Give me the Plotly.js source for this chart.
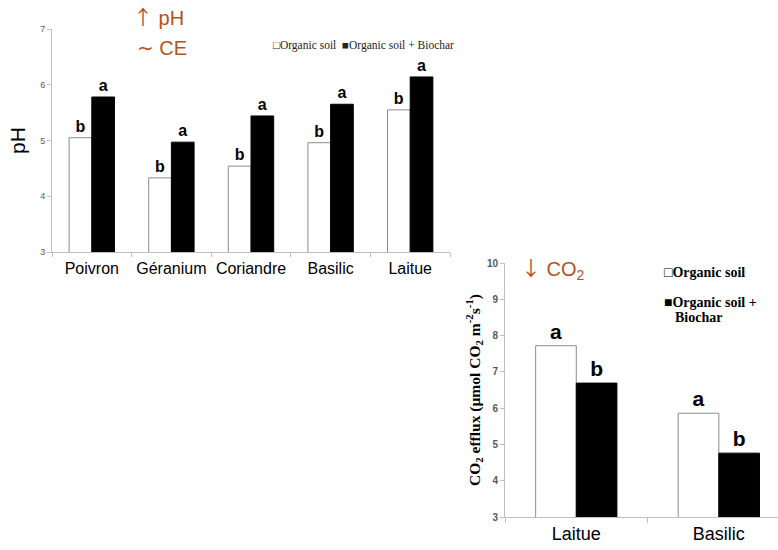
<!DOCTYPE html>
<html>
<head>
<meta charset="utf-8">
<script src="https://cdn.plot.ly/plotly-3.0.1.min.js"></script>
<style>html,body{margin:0;padding:0;background:#fff;}#chart{width:778px;height:550px;}</style>
</head>
<body>
<div id="chart"></div>
<script>
// ---- Data ----
const seriesNames = ["Organic soil", "Organic soil + Biochar"];

const phCategories = ["Poivron", "Géranium", "Coriandre", "Basilic", "Laitue"];
const phOrganic = [5.05, 4.33, 4.54, 4.96, 5.55];
const phBiochar = [5.78, 4.97, 5.44, 5.65, 6.14];
const phOrganicLetters = ["b", "b", "b", "b", "b"];
const phBiocharLetters = ["a", "a", "a", "a", "a"];
const phTicks = [3, 4, 5, 6, 7];

const co2Categories = ["Laitue", "Basilic"];
const co2Organic = [7.72, 5.86];
const co2Biochar = [6.69, 4.76];
const co2OrganicLetters = ["a", "a"];
const co2BiocharLetters = ["b", "b"];
const co2Ticks = [3, 4, 5, 6, 7, 8, 9, 10];

// ---- Styles ----
const W = 778, H = 550;
const brown = "#B4501E";
const axisGray = "#BFBFBF";
const tickGray = "#595959";

function barTrace(x, y, letters, isBlack, xa, ya, fontSize) {
  return {
    type: "bar", x: x, y: y, xaxis: xa, yaxis: ya,
    text: letters, textposition: "outside", cliponaxis: false, constraintext: "none",
    textfont: {family: "Liberation Sans, Arial", size: fontSize, color: "#000", weight: "bold"},
    marker: {color: isBlack ? "#000000" : "#FFFFFF",
             line: {color: isBlack ? "#000000" : "#8C8C8C", width: 1}},
    hoverinfo: "skip", showlegend: false
  };
}

const data = [
  barTrace(phCategories, phOrganic, phOrganicLetters, false, "x", "y", 16),
  barTrace(phCategories, phBiochar, phBiocharLetters, true, "x", "y", 16),
  barTrace(co2Categories, co2Organic, co2OrganicLetters, false, "x2", "y2", 21),
  barTrace(co2Categories, co2Biochar, co2BiocharLetters, true, "x2", "y2", 21)
];

const px = v => v / W;
const py = v => 1 - v / H;
const arrow = ch => '<span style="font-family:\'Noto Sans CJK SC\'">' + ch + '</span>';

const layout = {
  width: W, height: H,
  margin: {l: 0, r: 0, t: 0, b: 0},
  paper_bgcolor: "#fff", plot_bgcolor: "rgba(0,0,0,0)",
  barmode: "group", bargap: 0.43, bargroupgap: 0,
  font: {family: "Liberation Sans, Arial", color: "#000"},
  xaxis: {
    domain: [px(52), px(450)], anchor: "y", range: [-0.5, 4.5],
    type: "category", showgrid: false, zeroline: false,
    showline: true, linecolor: axisGray, linewidth: 1,
    ticks: "outside", tickson: "boundaries", ticklen: 4, tickcolor: axisGray,
    tickfont: {family: "Liberation Sans, Arial", size: 16, color: "#000"}, ticklabelstandoff: 2
  },
  yaxis: {
    domain: [py(252), py(29)], anchor: "x", range: [3, 7],
    tickvals: phTicks, showgrid: false, zeroline: false,
    showline: true, linecolor: axisGray, linewidth: 1,
    ticks: "outside", ticklen: 4, tickcolor: axisGray,
    tickfont: {family: "Liberation Sans, Arial", size: 9, color: tickGray},
    title: {text: "pH", font: {family: "Liberation Sans, Arial", size: 21, color: "#000"}, standoff: 8}
  },
  xaxis2: {
    domain: [px(505), 1], anchor: "y2", range: [-0.5, 1.415],
    type: "category", showgrid: false, zeroline: false,
    showline: true, linecolor: axisGray, linewidth: 1,
    ticks: "outside", tickson: "boundaries", ticklen: 5, tickcolor: axisGray,
    tickfont: {family: "Liberation Sans, Arial", size: 18, color: "#000"}
  },
  yaxis2: {
    domain: [py(517), py(263)], anchor: "x2", range: [3, 10],
    tickvals: co2Ticks, showgrid: false, zeroline: false,
    showline: true, linecolor: axisGray, linewidth: 1,
    ticks: "outside", ticklen: 4, tickcolor: axisGray,
    tickfont: {family: "Liberation Sans, Arial", size: 10, color: tickGray, weight: "bold"},
    title: {text: "CO<sub>2</sub> efflux (µmol CO<sub>2</sub> m<sup>-2</sup>s<sup>-1</sup>)",
            font: {family: "Liberation Serif, Times New Roman", size: 15.5, color: "#000", weight: "bold"}, standoff: 2}
  },
  annotations: [
    {xref: "paper", yref: "paper", x: px(131), y: py(17), xanchor: "left", yanchor: "middle",
     text: arrow("↑") + " pH", showarrow: false, font: {family: "Liberation Sans, Arial", size: 20, color: brown}},
    {xref: "paper", yref: "paper", x: px(135), y: py(48), xanchor: "left", yanchor: "middle",
     text: '<span style="font-family:\'DejaVu Sans\'">~</span> CE', showarrow: false, font: {family: "Liberation Sans, Arial", size: 20, color: brown}},
    {xref: "paper", yref: "paper", x: px(519), y: py(268), xanchor: "left", yanchor: "middle",
     text: arrow("↓") + " CO<sub>2</sub>", showarrow: false, font: {family: "Liberation Sans, Arial", size: 20, color: brown}},
    {xref: "paper", yref: "paper", x: px(271), y: py(46), xanchor: "left", yanchor: "middle",
     text: "□" + seriesNames[0] + "  ■" + seriesNames[1], showarrow: false,
     font: {family: "Liberation Serif, Times New Roman", size: 11.5, color: "#222"}},
    {xref: "paper", yref: "paper", x: px(662), y: py(272), xanchor: "left", yanchor: "middle",
     text: "□" + seriesNames[0], showarrow: false,
     font: {family: "Liberation Serif, Times New Roman", size: 14, color: "#000", weight: "bold"}},
    {xref: "paper", yref: "paper", x: px(662), y: py(302), xanchor: "left", yanchor: "middle",
     text: "■" + seriesNames[1].replace(" Biochar", ""), showarrow: false,
     font: {family: "Liberation Serif, Times New Roman", size: 14, color: "#000", weight: "bold"}},
    {xref: "paper", yref: "paper", x: px(673), y: py(317), xanchor: "left", yanchor: "middle",
     text: "Biochar", showarrow: false,
     font: {family: "Liberation Serif, Times New Roman", size: 14, color: "#000", weight: "bold"}}
  ]
};

Plotly.newPlot("chart", data, layout, {displayModeBar: false, staticPlot: true});
</script>
</body>
</html>
